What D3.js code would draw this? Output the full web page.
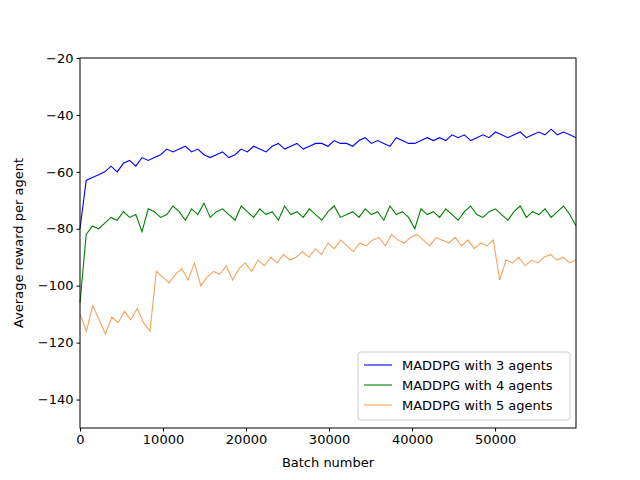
<!DOCTYPE html>
<html><head><meta charset="utf-8">
<script src="https://cdn.jsdelivr.net/npm/d3@7"></script>
<style>body{margin:0;background:#fff}text{font-family:"DejaVu Sans",sans-serif}</style>
</head><body>
<svg id="c" width="640" height="480"></svg>
<script>
var xTicks = [0, 10000, 20000, 30000, 40000, 50000];
var yTicks = [-140, -120, -100, -80, -60, -40, -20];
var seriesNames = ["MADDPG with 3 agents", "MADDPG with 4 agents", "MADDPG with 5 agents"];
var seriesColors = ["#0000ff", "#008000", "#f4a460"];
var agents3 = [-80,-63,-62,-61,-60,-58,-60,-57,-56,-58,-55,-56,-55,-54,-52,-53,-52,-51,-53,-52,-54,-55,-54,-53,-55,-54,-52,-53,-51,-52,-53,-51,-50,-52,-51,-50,-52,-51,-50,-50,-51,-49,-50,-50,-51,-49,-48,-50,-49,-50,-51,-48,-49,-50,-50,-49,-48,-49,-48,-49,-47,-48,-47,-49,-48,-47,-48,-46,-47,-48,-47,-46,-48,-47,-46,-47,-45,-47,-46,-47,-48];
var agents4 = [-106,-82,-79,-80,-78,-76,-77,-74,-76,-75,-81,-73,-74,-76,-75,-72,-74,-77,-73,-75,-71,-76,-74,-73,-75,-77,-72,-74,-76,-73,-75,-74,-77,-72,-75,-74,-76,-73,-75,-77,-74,-72,-76,-75,-74,-76,-73,-75,-74,-77,-72,-75,-74,-76,-80,-73,-75,-74,-76,-73,-75,-77,-74,-72,-75,-76,-74,-73,-75,-77,-74,-72,-76,-74,-75,-73,-76,-74,-72,-75,-79];
var agents5 = [-110,-116,-107,-112,-117,-111,-113,-109,-112,-108,-113,-116,-95,-97,-99,-96,-94,-98,-92,-100,-97,-95,-96,-93,-98,-94,-92,-95,-91,-93,-90,-92,-89,-91,-90,-88,-90,-87,-89,-85,-87,-84,-86,-88,-85,-86,-84,-83,-86,-82,-84,-85,-83,-82,-84,-86,-83,-84,-85,-83,-86,-84,-87,-85,-86,-84,-98,-91,-92,-90,-93,-91,-92,-90,-89,-91,-90,-92,-91];
var xMax = 59750;

(function () {
    var svg = d3.select("#c");
    var m = {l: 80, r: 576, t: 58, b: 428};
    var x = d3.scaleLinear().domain([0, xMax]).range([m.l, m.r]);
    var y = d3.scaleLinear().domain([-150, -20]).range([m.b, m.t]);

    var line = d3.line()
        .x(function (d, i, arr) { return x(i * xMax / (arr.length - 1)); })
        .y(function (d) { return y(d); });

    var g = svg.append("g");
    [agents3, agents4, agents5].forEach(function (s, k) {
        g.append("path").datum(s).attr("d", line)
            .attr("fill", "none").attr("stroke", seriesColors[k]).attr("stroke-width", 1.1);
    });

    svg.append("g").attr("transform", "translate(0," + m.b + ")")
        .call(d3.axisBottom(x).tickValues(xTicks).tickFormat(d3.format("d")).tickSizeOuter(0).tickSize(3.5))
        .call(function (a) { a.selectAll("text").attr("font-size", 13).attr("fill", "#000"); a.select(".domain").remove(); });
    svg.append("g").attr("transform", "translate(" + m.l + ",0)")
        .call(d3.axisLeft(y).tickValues(yTicks).tickFormat(function (d) { return "\u2212" + Math.abs(d); }).tickSizeOuter(0).tickSize(3.5))
        .call(function (a) { a.selectAll("text").attr("font-size", 13).attr("fill", "#000"); a.select(".domain").remove(); });

    svg.append("rect").attr("x", m.l).attr("y", m.t).attr("width", m.r - m.l).attr("height", m.b - m.t)
        .attr("fill", "none").attr("stroke", "#000").attr("stroke-width", 1);

    svg.append("text").attr("x", (m.l + m.r) / 2).attr("y", 467).attr("text-anchor", "middle")
        .attr("font-size", 13).text("Batch number");
    svg.append("text").attr("transform", "translate(23," + ((m.t + m.b) / 2) + ") rotate(-90)")
        .attr("text-anchor", "middle").attr("font-size", 13).text("Average reward per agent");

    var lg = svg.append("g").attr("transform", "translate(358,352)");
    lg.append("rect").attr("width", 212).attr("height", 68).attr("rx", 3)
        .attr("fill", "#fff").attr("fill-opacity", 0.8).attr("stroke", "#ccc");
    seriesNames.forEach(function (n, k) {
        var yy = 13 + k * 20;
        lg.append("line").attr("x1", 6).attr("x2", 34).attr("y1", yy).attr("y2", yy)
            .attr("stroke", seriesColors[k]).attr("stroke-width", 1.1);
        lg.append("text").attr("x", 44).attr("y", yy + 4.5).attr("font-size", 13).text(n);
    });
})();
</script>
</body></html>
